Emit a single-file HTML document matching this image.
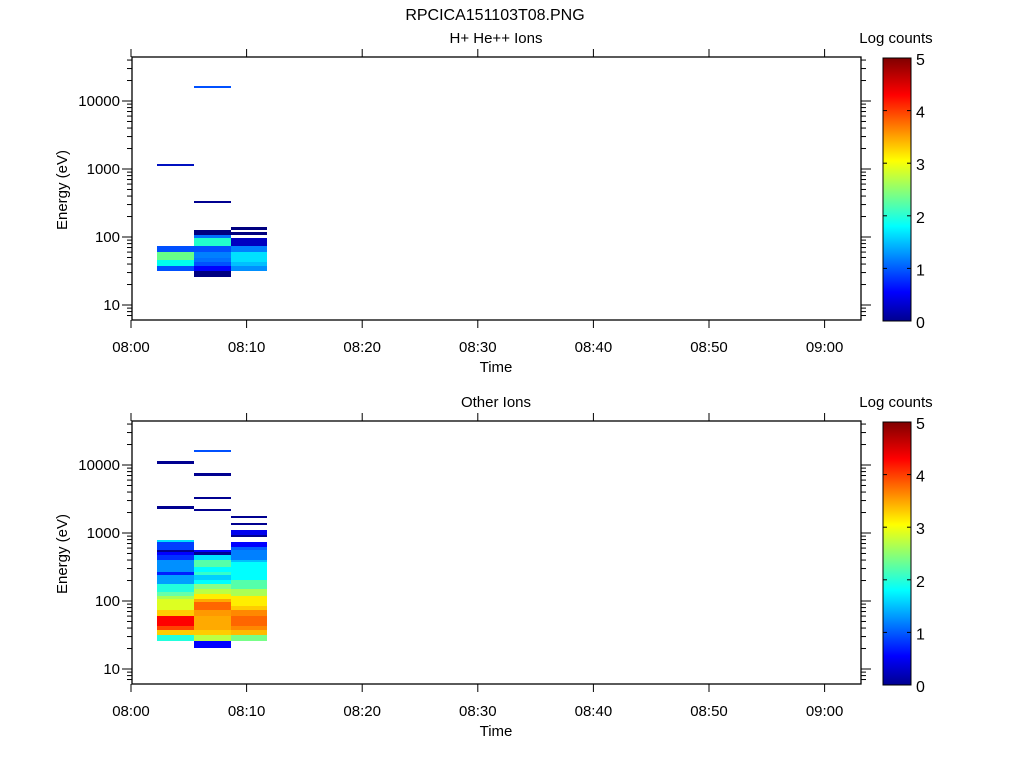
<!DOCTYPE html>
<html><head><meta charset="utf-8"><style>
html,body{margin:0;padding:0;background:#fff;}
svg{display:block;font-family:"Liberation Sans",sans-serif;}
</style></head><body>
<svg id="s" width="1024" height="768" xmlns="http://www.w3.org/2000/svg">
<defs>
<linearGradient id="jet" x1="0" y1="1" x2="0" y2="0">
<stop offset="0" stop-color="#00008f"/>
<stop offset="0.11" stop-color="#0000ff"/>
<stop offset="0.36" stop-color="#00ffff"/>
<stop offset="0.61" stop-color="#ffff00"/>
<stop offset="0.86" stop-color="#ff0000"/>
<stop offset="1" stop-color="#800000"/>
</linearGradient>
</defs>
<text x="495" y="20" text-anchor="middle" font-size="16">RPCICA151103T08.PNG</text>
<g id="p1"></g><g id="p2"></g>
</svg>
<script>
(function(){
var NS="http://www.w3.org/2000/svg";
function el(p,t,a,txt){var e=document.createElementNS(NS,t);for(var k in a)e.setAttribute(k,a[k]);if(txt!==undefined)e.textContent=txt;p.appendChild(e);return e;}
var L=132,R=861,XW=115.6,FS=15;
function panel(g,off,title,data){
 var T=57+off,B=320+off;
 function yv(v){return 305+off-68*(Math.log10(v)-1);}
 data.forEach(function(d){el(g,'rect',{x:d[0],y:d[1]+off,width:d[2]-d[0],height:d[3]-d[1],fill:d[4]});});
 el(g,'rect',{x:L,y:T,width:R-L,height:B-T,fill:'none',stroke:'#000','stroke-width':1.3});
 for(var dec=0;dec<5;dec++){for(var m=1;m<10;m++){var v=m*Math.pow(10,dec);var y=yv(v);if(y<T||y>B)continue;var len=m==1?10:5;
  el(g,'line',{x1:L-len,y1:y,x2:L,y2:y,stroke:'#000'});el(g,'line',{x1:R,y1:y,x2:R+len,y2:y,stroke:'#000'});}}
 [10,100,1000,10000].forEach(function(v){el(g,'text',{x:L-12,y:yv(v)+5,'text-anchor':'end','font-size':FS},String(v));});
 var labs=['08:00','08:10','08:20','08:30','08:40','08:50','09:00'];
 for(var i=0;i<7;i++){var x=131+i*XW;el(g,'line',{x1:x,y1:B,x2:x,y2:B+8,stroke:'#000'});el(g,'line',{x1:x,y1:T-8,x2:x,y2:T,stroke:'#000'});
  el(g,'text',{x:x,y:B+32,'text-anchor':'middle','font-size':FS},labs[i]);}
 el(g,'text',{x:496,y:B+52,'text-anchor':'middle','font-size':FS},'Time');
 el(g,'text',{x:496,y:T-14,'text-anchor':'middle','font-size':FS},title);
 el(g,'text',{x:67,y:190+off,'text-anchor':'middle','font-size':FS,transform:'rotate(-90 67 '+(190+off)+')'},'Energy (eV)');
 el(g,'rect',{x:883,y:58+off,width:28,height:263,fill:'url(#jet)',stroke:'#000','stroke-width':1});
 for(var c=0;c<=5;c++){var y2=321+off-c*52.6;el(g,'line',{x1:883,y1:y2,x2:887,y2:y2,stroke:'#000'});el(g,'line',{x1:907,y1:y2,x2:911,y2:y2,stroke:'#000'});
  el(g,'text',{x:916,y:y2+7,'font-size':16},String(c));}
 el(g,'text',{x:896,y:T-14,'text-anchor':'middle','font-size':FS},'Log counts');
}
var A=157,B1=194,C=231,D=267;
var topData=[
[A,164,B1,166,'#0010c0'],
[A,246,B1,252,'#0050ff'],[A,252,B1,260,'#66ff88'],[A,260,B1,266,'#00ffee'],[A,266,B1,271,'#0050ff'],
[B1,86,C,88,'#0050ff'],[B1,201,C,203,'#000090'],
[B1,230,C,235,'#000080'],[B1,235,C,238,'#0070ff'],[B1,238,C,246,'#22ffcc'],[B1,246,C,252,'#0050ff'],[B1,252,C,258,'#0080ff'],[B1,258,C,262,'#0070ff'],[B1,262,C,266,'#0050ff'],[B1,266,C,271,'#0000ff'],[B1,271,C,277,'#000080'],
[C,227,D,230,'#000080'],[C,232,D,235,'#000080'],[C,238,D,246,'#0000c0'],[C,246,D,252,'#0080ff'],[C,252,D,262,'#00e0ff'],[C,262,D,266,'#00c0ff'],[C,266,D,271,'#0090ff']
];
var botData=[
[A,97,B1,100,'#000090'],[A,142,B1,145,'#000090'],
[A,176,B1,178,'#00e0ff'],[A,178,B1,186,'#0040ff'],[A,186,B1,188,'#000090'],[A,188,B1,191,'#0000ff'],[A,191,B1,196,'#0030ff'],[A,196,B1,208,'#0090ff'],[A,208,B1,211,'#0020ff'],[A,211,B1,220,'#00a0ff'],[A,220,B1,228,'#22ffdd'],[A,228,B1,232,'#66ffaa'],[A,232,B1,235,'#aaff55'],[A,235,B1,246,'#ddff22'],[A,246,B1,252,'#ffcc00'],[A,252,B1,262,'#ff0000'],[A,262,B1,266,'#ff4400'],[A,266,B1,271,'#ffcc00'],[A,271,B1,277,'#22ffdd'],
[B1,86,C,88,'#0050ff'],[B1,109,C,112,'#000090'],[B1,133,C,135,'#000090'],[B1,145,C,147,'#000090'],
[B1,186,C,188,'#0000ff'],[B1,188,C,191,'#000090'],[B1,191,C,196,'#00e0ff'],[B1,196,C,203,'#55ffaa'],[B1,203,C,208,'#00ffff'],[B1,208,C,211,'#33ffcc'],[B1,211,C,216,'#00d0ff'],[B1,216,C,220,'#00ffff'],[B1,220,C,225,'#88ff88'],[B1,225,C,230,'#bbff44'],[B1,230,C,235,'#ffee00'],[B1,235,C,238,'#ffaa00'],[B1,238,C,246,'#ff6600'],[B1,246,C,252,'#ff9900'],[B1,252,C,266,'#ffaa00'],[B1,266,C,271,'#ffcc00'],[B1,271,C,277,'#bbff44'],[B1,277,C,284,'#0000ff'],
[C,152,D,154,'#000090'],[C,159,D,161,'#000090'],[C,166,D,171,'#0000ee'],[C,171,D,173,'#000090'],[C,178,D,183,'#0000ff'],[C,183,D,186,'#0060ff'],[C,186,D,196,'#0080ff'],[C,196,D,198,'#00c0ff'],[C,198,D,216,'#00ffff'],[C,216,D,225,'#55ffaa'],[C,225,D,232,'#aaff55'],[C,232,D,242,'#ffee00'],[C,242,D,246,'#ffcc00'],[C,246,D,252,'#ff8800'],[C,252,D,262,'#ff6600'],[C,262,D,266,'#ff8800'],[C,266,D,271,'#ffbb00'],[C,271,D,277,'#77ff88']
];
panel(document.getElementById('p1'),0,'H+ He++ Ions',topData);
panel(document.getElementById('p2'),364,'Other Ions',botData);
})();
</script>
</body></html>
